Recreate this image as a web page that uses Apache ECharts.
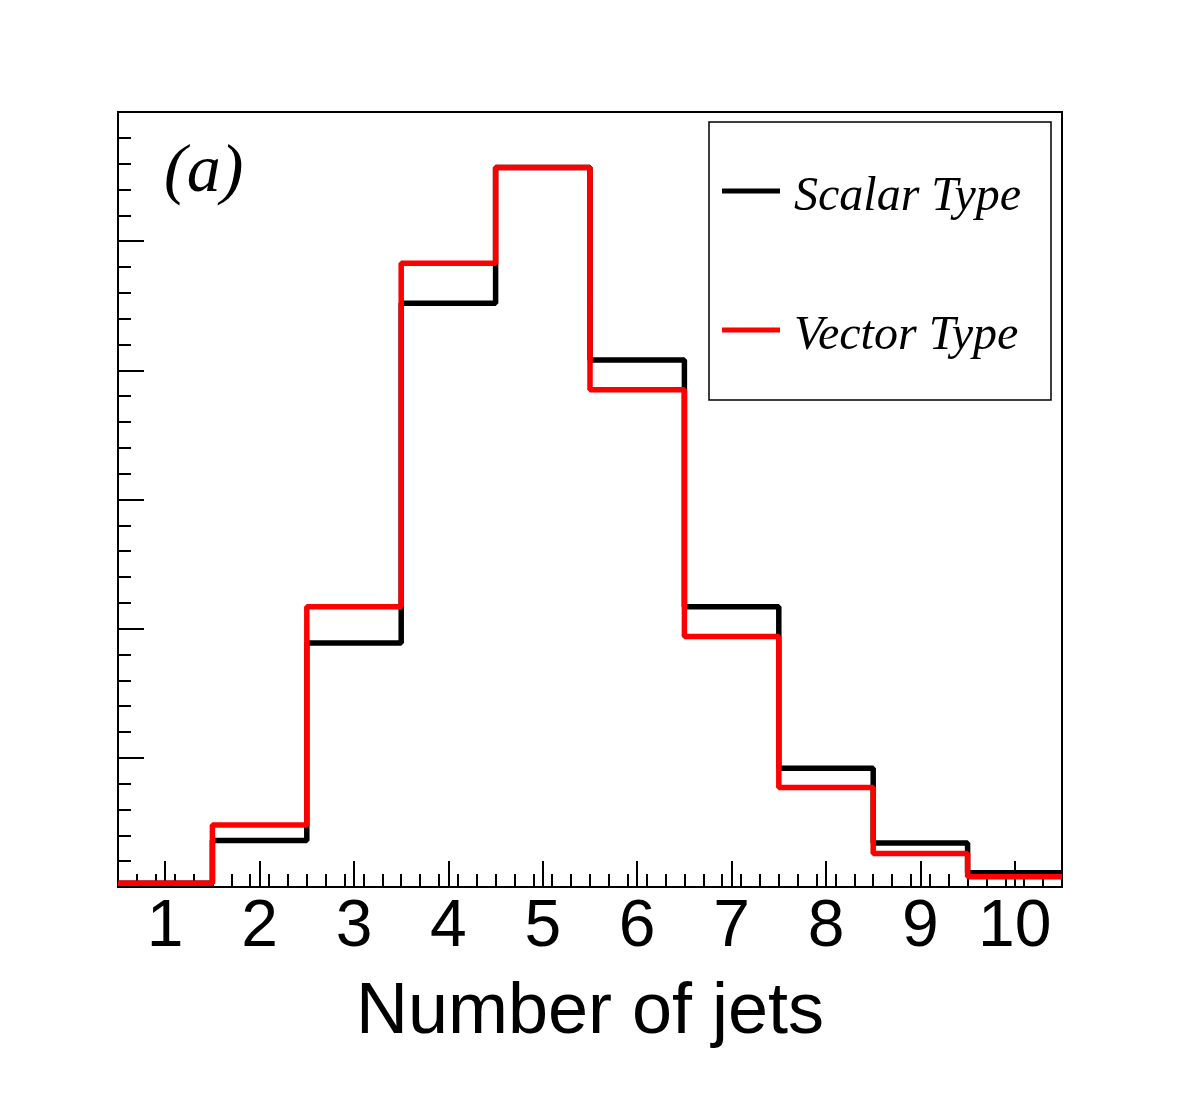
<!DOCTYPE html>
<html>
<head>
<meta charset="utf-8">
<script src="https://cdn.jsdelivr.net/npm/echarts@6/dist/echarts.min.js"></script>
<style>
html,body{margin:0;padding:0;background:#fff;}
#chart{width:1182px;height:1111px;}
</style>
</head>
<body>
<div id="chart"></div>
<script>
// ---- data (arbitrary y units) ----
const bins = [1, 2, 3, 4, 5, 6, 7, 8, 9, 10];
const scalarType = [0.03, 0.36, 1.89, 4.52, 5.57, 4.08, 2.17, 0.92, 0.34, 0.11];
const vectorType = [0.03, 0.48, 2.17, 4.83, 5.57, 3.85, 1.94, 0.77, 0.26, 0.08];
const xTickLabels = [1, 2, 3, 4, 5, 6, 7, 8, 9, 10];
const seriesNames = ['Scalar Type', 'Vector Type'];
const xTitle = 'Number of jets';
const panelLabel = '(a)';

// histogram bin edges -> step points
function stepPoints(vals) {
  const pts = bins.map((b, i) => [b - 0.5, vals[i]]);
  pts.push([bins[bins.length - 1] + 0.5, vals[vals.length - 1]]);
  return pts;
}
const xMin = bins[0] - 0.5, xMax = bins[bins.length - 1] + 0.5;
const minorX = [];
for (let k = 1; k < (xMax - xMin) * 5; k++) minorX.push(+(xMin + k * 0.2).toFixed(2));

const chart = echarts.init(document.getElementById('chart'), null, {renderer: 'canvas'});
chart.setOption({
  animation: false,
  backgroundColor: '#fff',
  grid: {left: 118, right: 120, top: 112, bottom: 224, show: true, borderColor: '#000', borderWidth: 2, backgroundColor: 'transparent'},
  xAxis: [{
    type: 'value', min: xMin, max: xMax, position: 'bottom',
    axisLine: {show: true, lineStyle: {color: '#000', width: 2}},
    axisTick: {show: true, inside: true, length: 26, customValues: xTickLabels, lineStyle: {color: '#000', width: 2}},
    axisLabel: {show: true, customValues: xTickLabels, color: '#000', fontFamily: 'Liberation Sans', fontSize: 66, margin: 8},
    splitLine: {show: false},
    name: xTitle, nameLocation: 'middle', nameGap: 90,
    nameTextStyle: {color: '#000', fontFamily: 'Liberation Sans', fontSize: 72}
  }, {
    type: 'value', min: xMin, max: xMax, position: 'bottom', offset: 0,
    axisLine: {show: false},
    axisTick: {show: true, inside: true, length: 13, customValues: minorX, lineStyle: {color: '#000', width: 2}},
    axisLabel: {show: false},
    splitLine: {show: false}
  }],
  yAxis: {
    type: 'value', min: 0, max: 6, interval: 1,
    axisLine: {show: true, lineStyle: {color: '#000', width: 2}},
    axisTick: {show: true, inside: true, length: 26, lineStyle: {color: '#000', width: 2}},
    minorTick: {show: true, splitNumber: 5, length: 13, lineStyle: {color: '#000', width: 2}},
    axisLabel: {show: false},
    splitLine: {show: false}
  },
  legend: {
    orient: 'vertical', left: 722, top: 161, padding: 0,
    itemWidth: 58, itemHeight: 5, itemGap: 79, icon: 'rect',
    data: seriesNames,
    formatter: '{t|{name}}',
    textStyle: {
      color: '#000', fontFamily: 'Liberation Serif', fontStyle: 'italic', fontSize: 48,
      rich: {t: {color: '#000', fontFamily: 'Liberation Serif', fontStyle: 'italic', fontSize: 48, lineHeight: 50, padding: [12, 0, 0, 9]}}
    }
  },
  graphic: [
    {type: 'rect', shape: {x: 709, y: 122, width: 342, height: 278}, style: {fill: 'none', stroke: '#000', lineWidth: 1.5}, z: 100},
    {type: 'text', x: 164, y: 173, style: {text: panelLabel, fill: '#000', font: 'italic 68px "Liberation Serif"', verticalAlign: 'middle', align: 'left'}, z: 100}
  ],
  series: [{
    name: seriesNames[0], type: 'line', step: 'end', showSymbol: false, symbol: 'none',
    color: '#000', itemStyle: {color: '#000'},
    lineStyle: {color: '#000', width: 5.5},
    data: stepPoints(scalarType), z: 2
  }, {
    name: seriesNames[1], type: 'line', step: 'end', showSymbol: false, symbol: 'none',
    color: '#ff0000', itemStyle: {color: '#ff0000'},
    lineStyle: {color: '#ff0000', width: 5.5},
    data: stepPoints(vectorType), z: 3
  }]
});
</script>
</body>
</html>
